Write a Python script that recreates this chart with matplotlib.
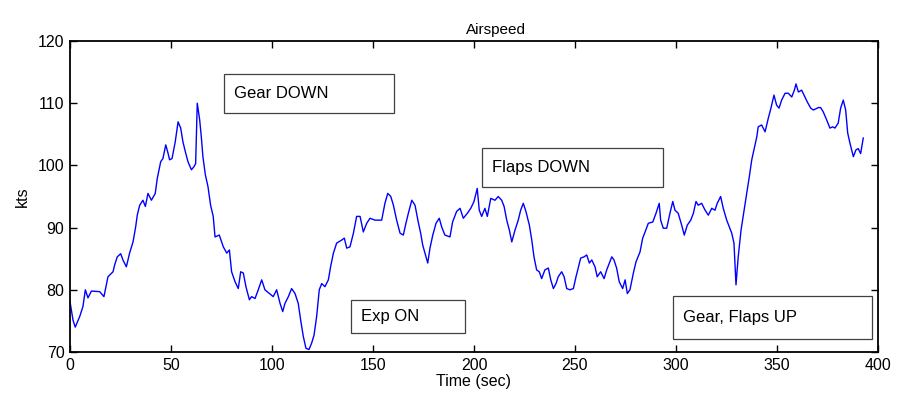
import numpy as np
import matplotlib
matplotlib.use("Agg")
import matplotlib.pyplot as plt
from matplotlib.patches import Rectangle

# airspeed trace (time in s, speed in kts)
time_s = [0, 1.5, 2.6, 4.8, 6.4, 7.6, 8.9, 10.6, 14.7, 16.8, 18.0, 18.8, 21.3, 22.1,
          23.4, 25.1, 26.2, 27.9, 29.5, 31.2, 32.5, 33.3, 34.5, 36.1, 37.3, 38.6,
          40.3, 42.2, 43.2, 44.9, 46.0, 47.4, 48.5, 49.3, 50.5, 52.1, 53.5, 54.8,
          55.9, 57.1, 58.4, 60.1, 61.4, 62.2, 63.0, 64.2, 65.0, 65.8, 67.0, 68.3,
          69.6, 70.9, 71.8, 73.9, 75.9, 77.6, 78.9, 80.0, 81.7, 83.3, 84.5, 85.8,
          87.1, 88.8, 89.9, 91.6, 93.2, 94.9, 96.5, 98.7, 100.6, 102.3, 104.0,
          105.3, 106.4, 108.1, 109.7, 111.4, 113.0, 114.2, 115.5, 116.8, 118.3,
          119.6, 120.8, 122.1, 123.4, 124.6, 126.2, 127.9, 129.0, 130.4, 132.0,
          134.5, 135.8, 137.0, 138.6, 140.3, 141.9, 143.6, 145.2, 146.9, 148.5,
          151.0, 154.3, 155.9, 157.3, 158.8, 160.1, 161.7, 163.4, 165.0, 166.3,
          167.5, 169.2, 170.8, 172.4, 173.6, 174.6, 175.7, 177.1, 178.2, 179.6,
          181.2, 182.8, 184.0, 185.6, 188.1, 189.4, 191.4, 193.1, 194.7, 196.7,
          198.4, 200.0, 201.6, 202.6, 203.8, 205.4, 206.6, 208.3, 210.4, 212.0,
          213.7, 214.9, 216.2, 217.5, 218.7, 220.3, 221.9, 223.1, 224.4, 225.7,
          227.4, 228.6, 229.7, 231.0, 232.3, 233.5, 235.1, 236.8, 238.0, 239.3,
          240.6, 241.7, 243.4, 244.6, 245.9, 247.5, 249.2, 250.5, 251.6, 252.8,
          254.5, 255.8, 257.1, 258.3, 259.9, 261.0, 262.7, 264.4, 265.7, 267.0,
          268.2, 269.3, 270.6, 271.9, 273.6, 274.8, 275.9, 277.2, 278.9, 280.2,
          282.2, 283.5, 284.7, 286.3, 288.5, 290.1, 291.7, 292.4, 293.7, 295.4,
          297.0, 298.4, 299.5, 301.1, 302.8, 304.1, 305.6, 307.3, 308.6, 309.9,
          311.0, 312.7, 314.4, 316.0, 317.7, 319.3, 320.4, 322.1, 323.4, 325.1,
          326.4, 327.6, 328.7, 329.7, 330.8, 332.2, 333.7, 335.0, 336.3, 337.5,
          338.6, 340.0, 340.7, 342.4, 344.1, 345.7, 347.0, 348.5, 349.8, 351.0,
          352.3, 354.0, 355.6, 357.3, 358.6, 359.4, 360.6, 362.2, 363.4, 365.0,
          366.7, 368.0, 370.5, 371.6, 372.9, 374.6, 376.2, 377.6, 378.7, 380.3,
          381.5, 382.8, 384.0, 385.0, 386.1, 387.8, 389.1, 390.2, 391.4, 392.7]
speed_kts = [78.1, 75.1, 74.0, 75.7, 77.3, 80.0, 78.7, 79.8, 79.7, 78.9, 80.8, 82.1,
             82.9, 84.0, 85.3, 85.8, 84.8, 83.7, 85.9, 87.7, 90.1, 92.0, 93.6, 94.4,
             93.4, 95.5, 94.4, 95.5, 97.9, 100.6, 101.1, 103.3, 102.0, 100.9, 101.1,
             103.8, 107.0, 106.0, 103.8, 102.2, 100.6, 99.3, 99.8, 100.3, 110.0,
             107.3, 104.6, 101.4, 98.5, 96.6, 93.6, 91.8, 88.5, 88.8, 86.9, 85.9,
             86.4, 82.9, 81.3, 80.2, 82.9, 82.7, 80.5, 78.4, 78.9, 78.6, 80.0, 81.6,
             80.0, 79.4, 78.9, 80.0, 77.8, 76.5, 77.8, 78.9, 80.2, 79.4, 77.8, 75.1,
             72.5, 70.6, 70.4, 71.4, 72.7, 75.7, 80.0, 81.0, 80.5, 81.6, 83.7, 85.9,
             87.5, 88.0, 88.3, 86.7, 86.9, 89.1, 91.8, 91.8, 89.3, 90.7, 91.5, 91.2,
             91.2, 93.9, 95.5, 95.0, 93.6, 91.2, 89.1, 88.8, 90.7, 92.3, 94.4, 93.6,
             90.9, 89.1, 87.2, 85.9, 84.3, 86.7, 88.8, 90.7, 91.5, 90.1, 88.8, 88.5,
             90.9, 92.6, 93.1, 91.5, 92.3, 93.1, 94.2, 96.3, 92.8, 91.8, 93.1, 91.8,
             94.7, 94.4, 95.0, 94.4, 93.4, 91.2, 89.6, 87.7, 89.6, 91.2, 92.8, 93.9,
             92.6, 90.4, 88.0, 85.3, 83.2, 82.9, 81.8, 83.2, 83.5, 81.6, 80.2, 81.0,
             82.1, 82.9, 82.1, 80.2, 80.0, 80.2, 82.1, 83.5, 85.1, 85.3, 85.6, 84.3,
             84.8, 83.7, 82.1, 82.9, 81.8, 83.2, 84.3, 85.3, 84.8, 83.5, 81.3, 80.2,
             81.6, 79.4, 80.0, 82.7, 84.5, 86.1, 88.3, 89.3, 90.7, 90.9, 92.3, 93.9,
             91.2, 89.9, 89.9, 92.3, 94.2, 92.8, 92.3, 90.4, 88.8, 90.4, 91.2, 92.3,
             94.2, 93.6, 93.9, 92.8, 92.0, 93.1, 92.8, 93.9, 95.0, 93.1, 91.2, 90.1,
             89.1, 87.5, 80.8, 85.3, 89.6, 92.8, 95.5, 98.2, 100.9, 102.5, 104.6,
             106.2, 106.5, 105.4, 107.6, 109.2, 111.3, 109.7, 109.2, 110.5, 111.6,
             111.6, 111.0, 112.1, 113.1, 111.8, 112.1, 111.3, 110.2, 109.2, 108.9,
             109.3, 109.3, 108.6, 107.3, 106.0, 106.2, 106.0, 106.8, 109.2, 110.5,
             108.9, 105.2, 103.6, 101.4, 102.5, 102.7, 101.9, 104.4]

# annotation boxes: label, (left, top, right, bottom) in figure pixels
notes = ["Gear DOWN", "Exp ON", "Flaps DOWN", "Gear, Flaps UP"]
note_boxes = [(224, 74, 394, 113), (351, 300, 465, 333),
              (482, 148, 663, 187), (673, 296, 872, 339)]

plt.rcParams['font.family'] = ['Liberation Sans', 'DejaVu Sans']
W, H = 900, 401
fig = plt.figure(figsize=(9, 4.01), dpi=100)
ax = fig.add_axes([70 / W, 1 - 352 / H, 808 / W, 311 / H])

ax.plot(time_s, speed_kts, color='#0000ff', lw=1.0)
ax.set_xlim(0, 400)
ax.set_ylim(70, 120)
ax.set_xticks(np.arange(0, 401, 50))
ax.set_yticks(np.arange(70, 121, 10))
ax.tick_params(direction='in', top=True, right=True, length=5, width=1,
               labelsize=11.5, pad=4)
for s in ax.spines.values():
    s.set_linewidth(1.3)
ax.set_title("Airspeed", fontsize=11, pad=5, x=0.527)
ax.set_xlabel("Time (sec)", fontsize=11.5, labelpad=1)
ax.set_ylabel("kts", fontsize=11.5, labelpad=6)

for label, (l, t, r, b) in zip(notes, note_boxes):
    rect = Rectangle((l / W, 1 - b / H), (r - l) / W, (b - t) / H,
                     transform=fig.transFigure, fill=False,
                     edgecolor='#404040', lw=0.9)
    fig.add_artist(rect)
    fig.text((l + 10) / W, 1 - (t + b) / 2 / H, label, fontsize=12,
             ha='left', va='center')

fig.savefig("out.png", dpi=100)
